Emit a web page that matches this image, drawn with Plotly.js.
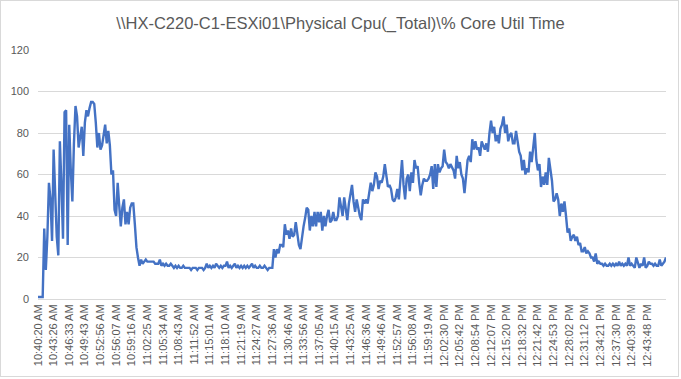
<!DOCTYPE html>
<html>
<head>
<meta charset="utf-8">
<script src="https://cdn.plot.ly/plotly-3.0.1.min.js"></script>
<style>
  html, body { margin: 0; padding: 0; background: #fff; }
  #wrap { position: relative; width: 681px; height: 379px; }
  #chart { width: 681px; height: 379px; }
  #frame { position: absolute; left: 0; top: 0; width: 679px; height: 377px; box-sizing: border-box; border: 1px solid #d9d9d9; pointer-events: none; }
</style>
</head>
<body>
<div id="wrap"><div id="chart"></div><div id="frame"></div></div>
<script>
const chartTitle = "\\\\HX-C220-C1-ESXi01\\Physical Cpu(_Total)\\% Core Util Time";

const timeLabels = [
  "10:40:20 AM","10:43:26 AM","10:46:33 AM","10:49:43 AM","10:52:56 AM","10:56:07 AM","10:59:16 AM","11:02:25 AM",
  "11:05:34 AM","11:08:43 AM","11:11:52 AM","11:15:01 AM","11:18:10 AM","11:21:19 AM","11:24:27 AM","11:27:36 AM",
  "11:30:46 AM","11:33:56 AM","11:37:05 AM","11:40:15 AM","11:43:25 AM","11:46:36 AM","11:49:46 AM","11:52:57 AM",
  "11:56:08 AM","11:59:19 AM","12:02:30 PM","12:05:42 PM","12:08:54 PM","12:12:07 PM","12:15:20 PM","12:18:32 PM",
  "12:21:42 PM","12:24:53 PM","12:28:02 PM","12:31:12 PM","12:34:21 PM","12:37:30 PM","12:40:39 PM","12:43:48 PM"
];

// one sample per category; a time label is shown every 10 samples
const samplesPerLabel = 10;

const cpuValues = [
  1,1,1,1,34,14,30,56,48,28,
  72,50,30,21,76,55,29,90,91,26,
  84,62,47,75,93,88,73,78,83,69,
  85,91,88,92,95,95,94,85,73,80,
  72,74,80,84,75,81,74,60,62,43,
  40,56,45,35,44,48,36,42,36,44,
  46,46,36,25,20,16,19,17,18,19,
  18,18,18,18,18,17,17,17,19,16,
  17,16,17,16,16,17,16,15,16,15,
  16,15,15,16,15,15,15,15,14,15,
  15,15,14,15,15,15,14,15,17,15,
  16,15,16,15,17,16,15,16,15,16,
  16,18,15,16,15,16,17,15,16,15,
  16,15,16,15,16,15,16,17,15,16,
  15,15,16,15,15,16,15,14,15,15,
  15,24,20,24,22,26,26,25,36,31,
  33,29,34,30,31,37,30,26,24,31,
  35,39,44,43,33,40,35,42,35,42,
  37,42,33,40,35,40,43,37,38,42,
  38,38,40,49,44,40,49,42,38,46,
  50,55,47,42,48,44,40,38,48,46,
  48,46,52,56,52,55,61,59,53,57,
  56,59,65,60,54,55,53,48,47,49,
  53,48,60,67,55,48,58,60,52,61,
  56,67,63,64,56,50,55,58,57,57,
  58,60,64,53,65,54,65,61,63,64,
  72,66,65,63,65,63,62,58,69,63,
  66,60,58,51,59,67,69,66,77,72,
  76,72,73,69,76,74,72,75,71,80,
  86,80,83,76,79,75,82,84,88,80,
  84,76,79,80,75,75,81,76,71,69,
  62,67,60,63,61,71,66,73,80,67,
  62,65,54,59,55,61,55,68,62,57,
  47,48,51,48,40,46,42,47,40,32,
  34,28,30,31,28,30,26,27,23,23,
  25,22,23,22,20,20,18,22,17,18,
  17,17,16,17,16,16,17,16,17,16,
  17,16,18,16,17,16,17,16,20,16,
  17,16,15,20,17,15,17,16,20,15,
  16,18,17,17,16,17,16,16,19,16,
  17,18,20
];

const sampleIndex = cpuValues.map((_, i) => i);
const tickPositions = timeLabels.map((_, k) => k * samplesPerLabel);

const trace = {
  x: sampleIndex,
  y: cpuValues,
  type: "scatter",
  mode: "lines",
  line: { color: "#4472C4", width: 2.4 },
  hoverinfo: "y"
};

const layout = {
  width: 681,
  height: 379,
  paper_bgcolor: "#ffffff",
  plot_bgcolor: "#ffffff",
  margin: { l: 38, r: 15, t: 50, b: 80 },
  showlegend: false,
  font: { family: "Liberation Sans, Arial, sans-serif", color: "#595959", size: 11 },
  title: {
    text: chartTitle,
    font: { family: "Liberation Sans, Arial, sans-serif", size: 16.5, color: "#595959" },
    x: 0.5, xref: "container", xanchor: "center",
    y: 1 - 23 / 379, yref: "container", yanchor: "middle"
  },
  xaxis: {
    type: "linear",
    range: [0, cpuValues.length - 1],
    tickmode: "array",
    tickvals: tickPositions,
    ticktext: timeLabels,
    tickangle: -90,
    showgrid: false,
    zeroline: false,
    showline: true,
    linecolor: "#d9d9d9",
    linewidth: 1,
    ticks: "",
    tickfont: { size: 11, color: "#595959" },
    fixedrange: true
  },
  yaxis: {
    range: [0, 120],
    tickmode: "linear",
    tick0: 0,
    dtick: 20,
    showgrid: true,
    gridcolor: "#d9d9d9",
    gridwidth: 1,
    zeroline: false,
    showline: false,
    ticks: "",
    ticklabelstandoff: 8,
    tickfont: { size: 11, color: "#595959" },
    fixedrange: true
  }
};

Plotly.newPlot("chart", [trace], layout, { displayModeBar: false, staticPlot: true });
</script>
</body>
</html>
